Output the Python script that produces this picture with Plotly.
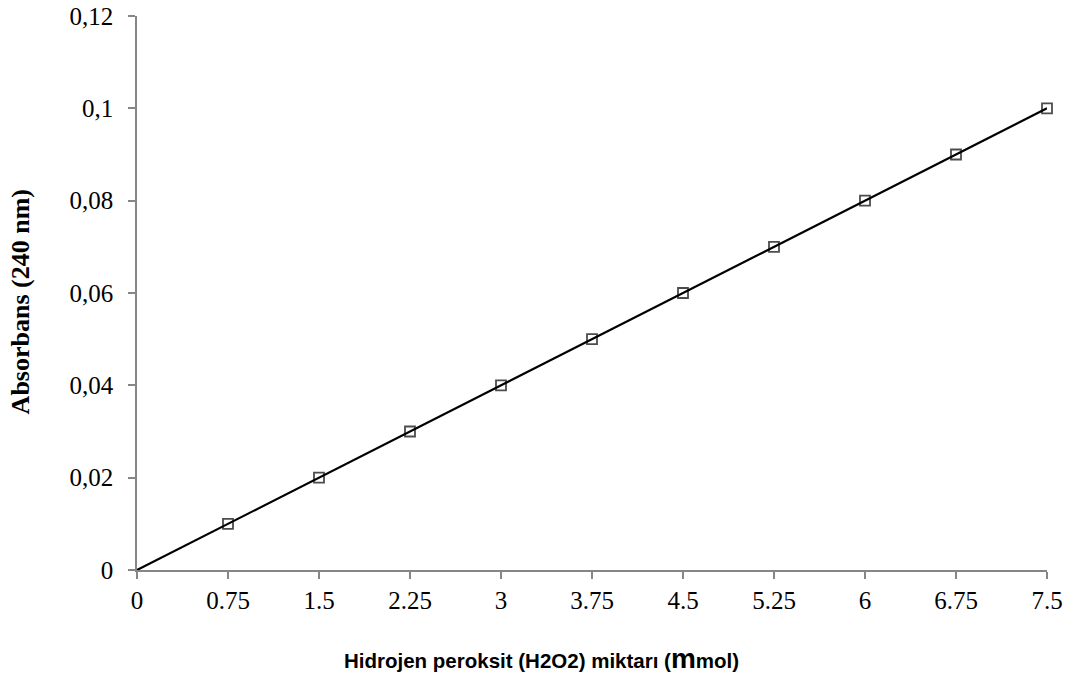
import plotly.graph_objects as go

# H2O2 amount (mmol) and absorbance at 240 nm
h2o2_mmol = [0, 0.75, 1.5, 2.25, 3, 3.75, 4.5, 5.25, 6, 6.75, 7.5]
absorbance = [0, 0.01, 0.02, 0.03, 0.04, 0.05, 0.06, 0.07, 0.08, 0.09, 0.1]

x_tickvals = [0, 0.75, 1.5, 2.25, 3, 3.75, 4.5, 5.25, 6, 6.75, 7.5]
x_ticktext = ["0", "0.75", "1.5", "2.25", "3", "3.75", "4.5", "5.25", "6", "6.75", "7.5"]
y_tickvals = [0, 0.02, 0.04, 0.06, 0.08, 0.1, 0.12]
y_ticktext = ["0", "0,02", "0,04", "0,06", "0,08", "0,1", "0,12"]

# the origin point is drawn without a visible marker
marker_sizes = [0] + [10] * (len(h2o2_mmol) - 1)

fig = go.Figure()
fig.add_trace(go.Scatter(
    x=h2o2_mmol, y=absorbance,
    mode="lines+markers",
    line=dict(color="black", width=2.2),
    marker=dict(symbol="square-open", size=marker_sizes, color="black",
                line=dict(color="black", width=1.8)),
    cliponaxis=False,
    showlegend=False,
))

serif = "Liberation Serif, Times New Roman, serif"
sans = "Liberation Sans, Arial, sans-serif"
axis_font = dict(family=serif, size=25, color="black")

fig.update_layout(
    width=1082, height=677,
    margin=dict(l=137, r=35, t=16, b=107),
    paper_bgcolor="white", plot_bgcolor="white",
    xaxis=dict(
        range=[0, 7.5], tickvals=x_tickvals, ticktext=x_ticktext,
        showgrid=False, zeroline=False, showline=True, linecolor="#868686", linewidth=1.5,
        ticks="outside", ticklen=7, tickwidth=1.5, tickcolor="#868686",
        tickfont=axis_font, automargin=False,
    ),
    yaxis=dict(
        range=[0, 0.12], tickvals=y_tickvals, ticktext=y_ticktext,
        showgrid=False, zeroline=False, showline=True, linecolor="#868686", linewidth=1.5,
        ticks="outside", ticklen=7, tickwidth=1.5, tickcolor="#868686",
        tickfont=axis_font, automargin=False, ticklabelstandoff=10,
    ),
    annotations=[
        dict(
            text="Hidrojen peroksit (H2O2) miktarı (<span style='font-size:28px'>m</span>mol)",
            font=dict(family=sans, size=20.5, color="black", weight="bold"),
            xref="paper", yref="paper", x=0.444, y=-0.16,
            xanchor="center", yanchor="middle", showarrow=False,
        ),
        dict(
            text="Absorbans (240 nm)",
            font=dict(family=serif, size=26, color="black", weight="bold"),
            textangle=-90,
            xref="paper", yref="paper", x=-0.128, y=0.484,
            xanchor="center", yanchor="middle", showarrow=False,
        ),
    ],
)

fig.write_html("out.html")
